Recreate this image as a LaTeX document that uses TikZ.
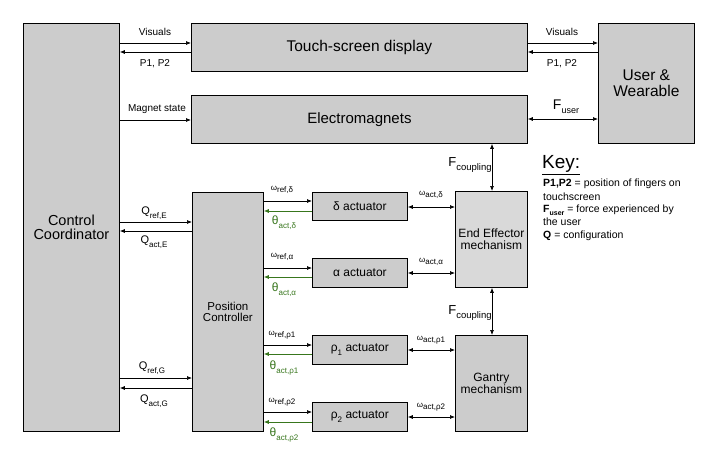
\documentclass[tikz,border=0pt]{standalone}
\usepackage{fontspec}
\setmainfont{Liberation Sans}
\usetikzlibrary{arrows.meta}
\definecolor{boxgray}{HTML}{CCCCCC}
\definecolor{eegray}{HTML}{D9D9D9}
\definecolor{fbgreen}{HTML}{38761D}
\newcommand{\lsub}[1]{\raisebox{-0.6ex}{\fontsize{8}{8}\selectfont#1}}
\newcommand{\fs}[1]{\fontsize{#1}{#1}\selectfont}
\tikzset{
  blk/.style={draw=black,fill=boxgray,line width=0.8pt,rectangle,anchor=north west,inner sep=0pt,align=center},
  arr/.style={line width=0.7pt,-{Latex[length=5pt,width=4pt]}},
  darr/.style={line width=0.7pt,{Latex[length=5pt,width=4pt]}-{Latex[length=5pt,width=4pt]}},
  garr/.style={arr,draw=fbgreen},
  lbl/.style={inner sep=0pt,font=\fs{10}},
  glbl/.style={inner sep=0pt,text=fbgreen,font=\fs{12}},
  keytxt/.style={inner sep=0pt,anchor=west,font=\fs{10.5}}
}
\begin{document}
\begin{tikzpicture}[x=1pt,y=-1pt]
\useasboundingbox (0,0) rectangle (709,460);
% blocks
\node[blk,minimum width=96pt,minimum height=408pt,font=\fs{14.5}] (cc) at (23,23) {Control\\Coordinator};
\node[blk,minimum width=336pt,minimum height=48pt,font=\fs{15.5}] (ts) at (191,23) {Touch-screen display};
\node[blk,minimum width=336pt,minimum height=48pt,font=\fs{15}] (em) at (191,95) {Electromagnets};
\node[blk,minimum width=96pt,minimum height=120pt,font=\fs{15.5}] (uw) at (598,23) {User \&\\Wearable};
\node[blk,minimum width=71pt,minimum height=239pt,font=\fs{11.5}] (pc) at (192,192) {Position\\Controller};
\node[blk,minimum width=95pt,minimum height=28pt,font=\fs{12}] (actd) at (312,192) {δ actuator};
\node[blk,minimum width=95pt,minimum height=29pt,font=\fs{12}] (acta) at (312,258) {α actuator};
\node[blk,minimum width=95pt,minimum height=29pt,font=\fs{12}] (actr1) at (312,335) {ρ\lsub{1} actuator};
\node[blk,minimum width=95pt,minimum height=29pt,font=\fs{12}] (actr2) at (312,402) {ρ\lsub{2} actuator};
\node[blk,fill=eegray,minimum width=72pt,minimum height=96pt,font=\fs{12}] (ee) at (455,191) {End Effector\\mechanism};
\node[blk,minimum width=72pt,minimum height=96pt,font=\fs{12}] (gm) at (455,335) {Gantry\\mechanism};

% top connectors
\draw[arr] (cc.east |- 0,43) -- (ts.west |- 0,43);
\draw[arr] (ts.west |- 0,52) -- (cc.east |- 0,52);
\draw[arr] (ts.east |- 0,43) -- (uw.west |- 0,43);
\draw[arr] (uw.west |- 0,52) -- (ts.east |- 0,52);
\draw[arr] (cc.east |- 0,120) -- (em.west |- 0,120);
\draw[darr] (em.east |- 0,119) -- (uw.west |- 0,119);
\node[lbl] (visl) at (155,32) {Visuals};
\node[lbl] (pl) at (155,64) {P1, P2};
\node[lbl] (visr) at (562,32) {Visuals};
\node[lbl] (pr) at (562,64) {P1, P2};
\node[lbl] (mag) at (157,109) {Magnet state};
\node[lbl,font=\fs{14}] (fuser) at (566,107) {F\lsub{\fs{9}user}};

% coupling
\draw[darr] (em.south -| 492,0) -- (ee.north -| 492,0);
\draw[darr] (ee.south -| 492,0) -- (gm.north -| 492,0);
\node[lbl,font=\fs{13}] (fc1) at (470,165) {F\lsub{\fs{9.5}coupling}};
\node[lbl,font=\fs{13}] (fc2) at (470,313) {F\lsub{\fs{9.5}coupling}};

% coordinator to position controller
\draw[arr] (cc.east |- 0,222) -- (pc.west |- 0,222);
\draw[arr] (pc.west |- 0,231) -- (cc.east |- 0,231);
\draw[arr] (cc.east |- 0,378) -- (pc.west |- 0,378);
\draw[arr] (pc.west |- 0,388) -- (cc.east |- 0,388);
\node[lbl,font=\fs{11}] (qre) at (154,213) {Q\lsub{ref,E}};
\node[lbl,font=\fs{11}] (qae) at (154,242) {Q\lsub{act,E}};
\node[lbl,font=\fs{11}] (qrg) at (152,368) {Q\lsub{ref,G}};
\node[lbl,font=\fs{11}] (qag) at (154,401) {Q\lsub{act,G}};

% position controller to actuators
\draw[arr] (pc.east |- 0,201) -- (actd.west |- 0,201);
\draw[garr] (actd.west |- 0,211) -- (pc.east |- 0,211);
\draw[arr] (pc.east |- 0,268) -- (acta.west |- 0,268);
\draw[garr] (acta.west |- 0,277) -- (pc.east |- 0,277);
\draw[arr] (pc.east |- 0,345) -- (actr1.west |- 0,345);
\draw[garr] (actr1.west |- 0,354) -- (pc.east |- 0,354);
\draw[arr] (pc.east |- 0,412) -- (actr2.west |- 0,412);
\draw[garr] (actr2.west |- 0,422) -- (pc.east |- 0,422);
\node[lbl,font=\fs{8}] (wrd) at (282,190) {ω\lsub{ref,δ}};
\node[lbl,font=\fs{8}] (wra) at (282,257) {ω\lsub{ref,α}};
\node[lbl,font=\fs{8}] (wr1) at (282,335) {ω\lsub{ref,ρ1}};
\node[lbl,font=\fs{8}] (wr2) at (282,402) {ω\lsub{ref,ρ2}};
\node[glbl] (tad) at (284,223) {θ\lsub{act,δ}};
\node[glbl] (taa) at (284,290) {θ\lsub{act,α}};
\node[glbl] (ta1) at (284,368) {θ\lsub{act,ρ1}};
\node[glbl] (ta2) at (284,435) {θ\lsub{act,ρ2}};

% actuators to mechanisms
\draw[darr] (actd.east |- 0,207) -- (ee.west |- 0,207);
\draw[darr] (acta.east |- 0,273) -- (ee.west |- 0,273);
\draw[darr] (actr1.east |- 0,350) -- (gm.west |- 0,350);
\draw[darr] (actr2.east |- 0,417) -- (gm.west |- 0,417);
\node[lbl,font=\fs{8}] (wad) at (431,195) {ω\lsub{act,δ}};
\node[lbl,font=\fs{8}] (waa) at (431,262) {ω\lsub{act,α}};
\node[lbl,font=\fs{8}] (wa1) at (431,340) {ω\lsub{act,ρ1}};
\node[lbl,font=\fs{8}] (wa2) at (431,407) {ω\lsub{act,ρ2}};

% key
\node[keytxt,font=\fs{19}] (key) at (542,165) {\underline{Key:}};
\node[keytxt] (k1) at (543,184) {\textbf{P1,P2} = position of fingers on};
\node[keytxt] (k2) at (543,197) {touchscreen};
\node[keytxt] (k3) at (543,210) {\textbf{F\lsub{\fs{7}user}} = force experienced by};
\node[keytxt] (k4) at (543,222) {the user};
\node[keytxt] (k5) at (543,236) {\textbf{Q} = configuration};
\end{tikzpicture}
\end{document}
